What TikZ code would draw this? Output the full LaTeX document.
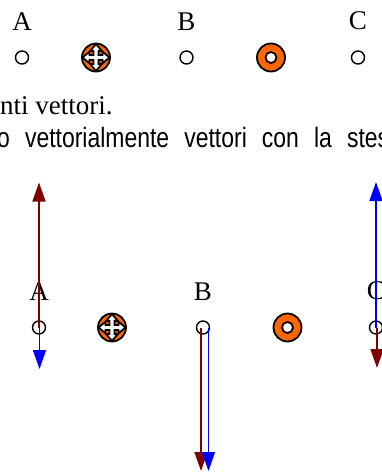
\documentclass[tikz,border=0pt]{standalone}
\usepackage{fontspec}
\setmainfont{Liberation Serif}
\newfontfamily\narrowsans[FakeStretch=0.82]{Liberation Sans}
\usetikzlibrary{arrows.meta, positioning}
\definecolor{wireorange}{RGB}{255,102,0}
\definecolor{darkred}{RGB}{128,0,0}

\begin{document}
\begin{tikzpicture}[x=1pt, y=-1pt,
        point/.style={circle, draw, line width=1.4pt, minimum size=13pt, inner sep=0pt},
        lbl/.style={inner sep=0pt, font=\fontsize{27}{32}\selectfont},
        wirein/.style={circle, draw, line width=1.8pt, fill=wireorange, minimum size=28pt, inner sep=0pt,
            path picture={
                \begin{scope}[shift={(path picture bounding box.center)}]
                    \filldraw[fill=white, draw=black, line width=1.8pt]
                        (6.5,2.5) -- (6.5,5.8) -- (13.5,0) -- (6.5,-5.8) -- (6.5,-2.5) -- (2.5,-2.5)
                        -- (2.5,-6.5) -- (5.8,-6.5) -- (0,-13.5) -- (-5.8,-6.5) -- (-2.5,-6.5) -- (-2.5,-2.5)
                        -- (-6.5,-2.5) -- (-6.5,-5.8) -- (-13.5,0) -- (-6.5,5.8) -- (-6.5,2.5) -- (-2.5,2.5)
                        -- (-2.5,6.5) -- (-5.8,6.5) -- (0,13.5) -- (5.8,6.5) -- (2.5,6.5) -- (2.5,2.5) -- cycle;
                \end{scope}}},
        wireout/.style={circle, draw, line width=1.8pt, fill=wireorange, minimum size=28pt, inner sep=0pt,
            path picture={\filldraw[fill=white, line width=1.8pt] (path picture bounding box.center) circle (5.5pt);}},
        vec/.style={line width=1.6pt, -{Triangle[length=19pt, width=13pt]}},
        txt/.style={anchor=base west, inner sep=0pt}
    ]
    \useasboundingbox (0,0) rectangle (382,472);
    \clip (0,0) rectangle (382,472);

    \node[point] (a1) at (22,57.5) {};
    \node[wirein] (w1) at (96,57.5) {};
    \node[point] (b1) at (186.5,57.5) {};
    \node[wireout] (v1) at (271,57.5) {};
    \node[point] (c1) at (358,57.5) {};
    \node[lbl, above=20pt of a1] (la1) {A};
    \node[lbl, above=20pt of b1] (lb1) {B};
    \node[lbl, above=20pt of c1] (lc1) {C};

    \node[txt, font=\fontsize{27}{32}\selectfont] (line1) at (0,114) {nti vettori.};
    \node[txt, font=\narrowsans\fontsize{28}{32}\selectfont] (line2) at (-3,147) {\makebox[392pt][s]{o vettorialmente vettori con la stes}};

    \node[point] (a2) at (39,327.5) {};
    \node[wirein] (w2) at (112,327.5) {};
    \node[point] (b2) at (203,327.5) {};
    \node[wireout] (v2) at (287.5,327.5) {};
    \node[point] (c2) at (376,327.5) {};
    \node[lbl, above=20pt of a2] (la2) {A};
    \node[lbl, above=20pt of b2] (lb2) {B};
    \node[lbl, above=20pt of c2] (lc2) {C};

    \coordinate (aup) at (39,182.5);
    \coordinate (adown) at (39.5,369);
    \coordinate (bred) at (201,471);
    \coordinate (bblue) at (208.5,471);
    \coordinate (cup) at (376,182);
    \coordinate (cdown) at (377,368);

    \draw[vec, darkred] (a2.center) -- (aup);
    \draw[vec, blue] (adown |- a2) -- (adown);
    \draw[vec, darkred] (bred |- b2) -- (bred);
    \draw[vec, blue] (bblue |- b2) -- (bblue);
    \draw[vec, blue] (c2.center) -- (cup);
    \draw[vec, darkred] (cdown |- c2) -- (cdown);
\end{tikzpicture}
\end{document}
